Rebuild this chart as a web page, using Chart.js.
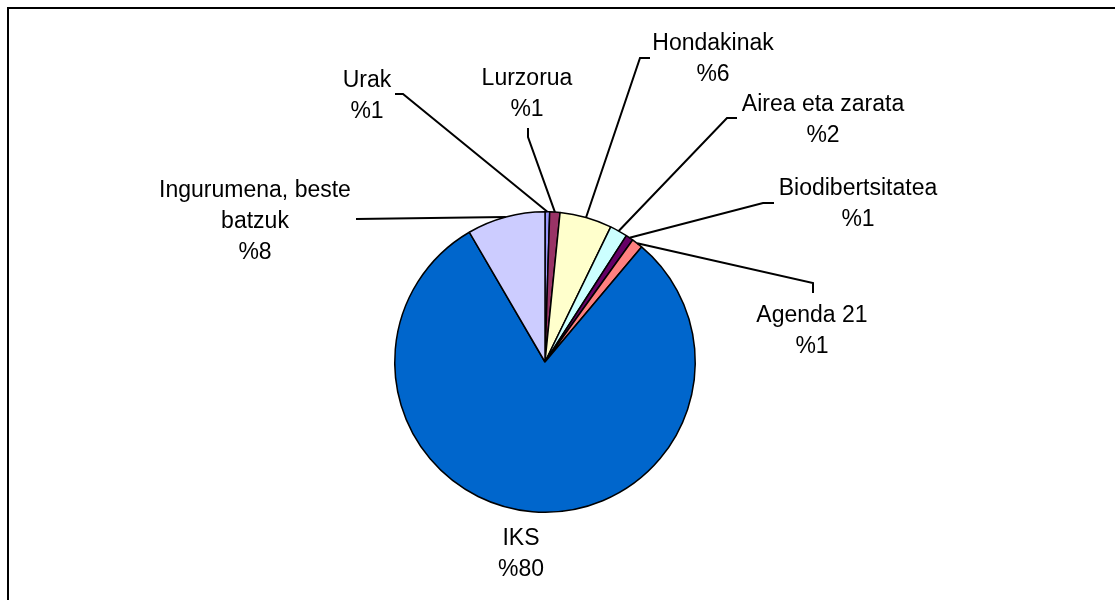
<!DOCTYPE html>
<html>
<head>
<meta charset="utf-8">
<script src="https://cdn.jsdelivr.net/npm/chart.js@4"></script>
<style>
    body { margin: 0; background: #fff; }
    canvas { display: block; }
</style>
</head>
<body>
<canvas id="myChart" width="1115" height="600"></canvas>
<script>
// Data (share of spending, in percent)
const categories = ['Urak', 'Lurzorua', 'Hondakinak', 'Airea eta zarata', 'Biodibertsitatea', 'Agenda 21', 'IKS', 'Ingurumena, beste batzuk'];
const values = [0.5, 1.1, 5.6, 1.9, 0.8, 1.2, 80.4, 8.4];
const sliceColors = ['#9999FF', '#993366', '#FFFFCC', '#CCFFFF', '#660066', '#FF8080', '#0066CC', '#CCCCFF'];

// Label placement (pie centre offsets), text lines and leader line points
const labelLayout = [
    { text: ['Urak'], x: -178, y: -275, leader: [[-150, -268], [-142, -268]] },
    { text: ['Lurzorua'], x: -18, y: -277, leader: [[-17, -234], [-17, -225]] },
    { text: ['Hondakinak'], x: 168, y: -312, leader: [[105, -304], [95, -304]] },
    { text: ['Airea eta zarata'], x: 278, y: -251, leader: [[192, -244], [182, -244]] },
    { text: ['Biodibertsitatea'], x: 313, y: -167, leader: [[229, -159], [218, -159]] },
    { text: ['Agenda 21'], x: 267, y: -40, leader: [[268, -69], [268, -79]] },
    { text: ['IKS'], x: -24, y: 183, leader: [] },
    { text: ['Ingurumena, beste', 'batzuk'], x: -290, y: -165, leader: [[-189, -143]] }
];

// Draws the outer frame
const framePlugin = {
    id: 'frame',
    beforeDraw(chart) {
        const ctx = chart.ctx;
        ctx.save();
        ctx.fillStyle = '#fff';
        ctx.fillRect(0, 0, chart.width, chart.height);
        ctx.strokeStyle = '#000';
        ctx.lineWidth = 2;
        ctx.strokeRect(8, 8, chart.width + 20, chart.height + 20);
        ctx.restore();
    }
};

// Draws labels with leader lines, like the spreadsheet original
const labelPlugin = {
    id: 'pieLabels',
    afterDraw(chart) {
        const ctx = chart.ctx;
        const meta = chart.getDatasetMeta(0);
        const total = values.reduce((a, b) => a + b, 0);
        ctx.save();
        ctx.font = '23px "Liberation Sans", Arial, sans-serif';
        ctx.fillStyle = '#000';
        ctx.strokeStyle = '#000';
        ctx.lineWidth = 2;
        ctx.textAlign = 'center';
        ctx.textBaseline = 'alphabetic';

        meta.data.forEach((arc, i) => {
            const layout = labelLayout[i];
            const cx = arc.x, cy = arc.y;
            const mid = (arc.startAngle + arc.endAngle) / 2;
            const r = arc.outerRadius;

            // leader line from the label to the middle of the slice edge
            if (layout.leader.length) {
                ctx.beginPath();
                layout.leader.forEach((p, k) => {
                    if (k === 0) ctx.moveTo(cx + p[0], cy + p[1]);
                    else ctx.lineTo(cx + p[0], cy + p[1]);
                });
                ctx.lineTo(cx + Math.cos(mid) * r, cy + Math.sin(mid) * r);
                ctx.stroke();
            }

            // label text: name lines then percent
            let lines = layout.text.slice();
            lines.push('%' + Math.round(values[i] / total * 100));
            lines.forEach((line, k) => {
                ctx.fillText(line, cx + layout.x, cy + layout.y + k * 31);
            });
        });
        ctx.restore();
    }
};

new Chart(document.getElementById('myChart'), {
    type: 'pie',
    data: {
        labels: categories,
        datasets: [{
            data: values,
            backgroundColor: sliceColors,
            borderColor: '#000',
            borderWidth: 1.5
        }]
    },
    options: {
        responsive: false,
        animation: false,
        layout: {
            padding: { top: 211, bottom: 87, left: 394, right: 419 }
        },
        plugins: {
            legend: { display: false },
            tooltip: { enabled: false }
        }
    },
    plugins: [framePlugin, labelPlugin]
});
</script>
</body>
</html>
